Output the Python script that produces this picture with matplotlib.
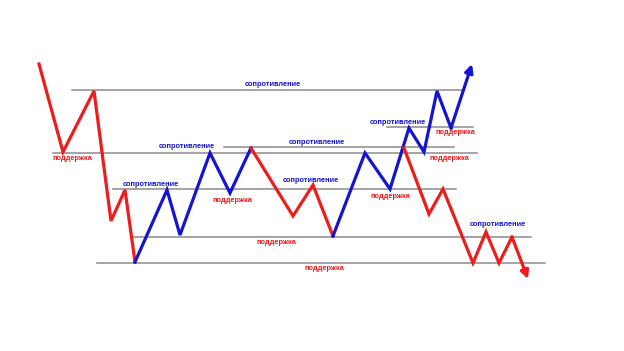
import matplotlib

matplotlib.use("Agg")
import matplotlib.pyplot as plt

# horizontal levels: y, x start, x end
level_y = [90, 153, 147, 189, 127, 237, 263]
level_x0 = [72, 53, 224, 113, 387, 132, 97]
level_x1 = [462, 477, 454, 456, 473, 531, 545]

# red falling leg (start)
red1_x = [39, 63, 94, 111, 125, 135]
red1_y = [64, 152, 91, 221, 190, 262]
# blue rising leg
blue1_x = [135, 167, 180, 210, 230, 251]
blue1_y = [262, 190, 235, 153, 193, 148]
# red middle leg
red2_x = [251, 293, 313, 333]
red2_y = [148, 216, 185, 236]
# blue final leg
blue2_x = [333, 365, 390, 409, 424, 437, 451, 472]
blue2_y = [236, 153, 189, 128, 152, 91, 128, 64]
# red final leg
red3_x = [404, 429, 443, 473, 486, 499, 512, 528]
red3_y = [148, 214, 189, 263, 232, 263, 237, 279]

# labels: text, x, y, colour key
label_text = ["сопротивление", "поддержка", "сопротивление", "сопротивление",
              "поддержка", "сопротивление", "сопротивление", "поддержка",
              "поддержка", "поддержка", "сопротивление", "поддержка",
              "поддержка", "сопротивление"]
label_x = [273, 72, 187, 151, 232, 317, 311, 276, 324, 390, 398, 455, 449, 498]
label_y = [85, 159, 147, 184, 200, 142, 180, 243, 269, 196, 122, 133, 159, 225]
label_kind = ["r", "s", "r", "r", "s", "r", "r", "s", "s", "s", "r", "s", "s", "r"]

RED = "#ee1c1c"
BLUE = "#1414d2"
GRAY = "#8c8c8c"

fig = plt.figure(figsize=(6.24, 3.51), dpi=100)
ax = fig.add_axes([0, 0, 1, 1])
ax.set_xlim(0, 624)
ax.set_ylim(351, 0)
ax.axis("off")

for y, x0, x1 in zip(level_y, level_x0, level_x1):
    ax.plot([x0, x1], [y, y], color=GRAY, lw=1.1, zorder=1)

lw = 2.3
ax.plot(red1_x, red1_y, color=RED, lw=lw, zorder=3, solid_joinstyle="miter")
ax.plot(blue1_x, blue1_y, color=BLUE, lw=lw, zorder=3, solid_joinstyle="miter")
ax.plot(red2_x, red2_y, color=RED, lw=lw, zorder=3, solid_joinstyle="miter")
ax.plot(blue2_x[:-1], blue2_y[:-1], color=BLUE, lw=lw, zorder=3, solid_joinstyle="miter")
ax.plot(red3_x[:-1], red3_y[:-1], color=RED, lw=lw, zorder=4, solid_joinstyle="miter")

for xs, ys, c in [(blue2_x, blue2_y, BLUE), (red3_x, red3_y, RED)]:
    ax.annotate("", xy=(xs[-1], ys[-1]), xytext=(xs[-2], ys[-2]),
                arrowprops=dict(arrowstyle="-|>", color=c, lw=lw,
                                mutation_scale=12, shrinkA=0, shrinkB=0),
                zorder=4)

for t, x, y, k in zip(label_text, label_x, label_y, label_kind):
    ax.text(x, y, t, color=BLUE if k == "r" else RED, fontsize=5.3,
            fontweight="bold", family="Liberation Sans",
            ha="center", va="center", zorder=5)

fig.savefig("out.png", dpi=100)
plt.close(fig)
